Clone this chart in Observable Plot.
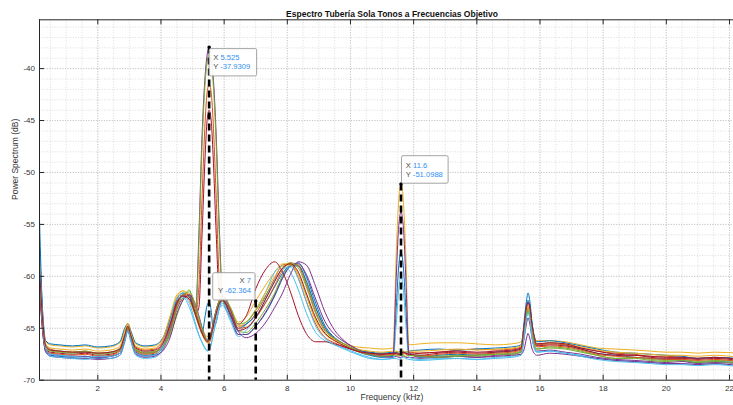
<!DOCTYPE html>
<html><head><meta charset="utf-8">
<script src="https://cdn.jsdelivr.net/npm/d3@7"></script>
<script src="https://cdn.jsdelivr.net/npm/@observablehq/plot@0.6"></script>
<style>body{margin:0;background:#fff} svg{display:block}</style>
</head><body><div id="chart"></div>
<script>
// ---------------- data ----------------
const titleText = "Espectro Tubería Sola Tonos a Frecuencias Objetivo";
const xLabel = "Frequency (kHz)";
const yLabel = "Power Spectrum (dB)";
const xTicks = [2,4,6,8,10,12,14,16,18,20,22];
const yTicks = [-70,-65,-60,-55,-50,-45,-40];
const xMinor = d3.range(0.5, 22.2, 0.5);
const yMinor = d3.range(-69, -35, 1);
const xDomain = [0.154, 22.127];
const yDomain = [-70, -35.3];

const freqs = [0.155,0.25,0.35,0.5,0.8,1.2,1.6,2.0,2.4,2.7,
 2.85,2.95,3.05,3.2,3.5,3.8,4.05,4.3,4.5,4.7,
 4.9,5.1,5.2,5.3,5.4,5.46,5.525,5.59,5.65,5.75,
 5.85,5.95,6.2,6.45,6.7,7.0,7.3,7.6,7.85,8.1,
 8.35,8.6,8.9,9.2,9.5,9.8,10.2,10.6,11.0,11.35,
 11.45,11.52,11.6,11.68,11.75,11.85,12.2,12.8,13.4,14.0,
 14.6,15.1,15.4,15.5,15.57,15.62,15.68,15.75,15.9,16.3,
 16.8,17.3,17.8,18.4,19.0,19.5,20.0,20.5,21.0,21.5,22.3];

const s1 = [-54.6,-63.5,-67.0,-67.6,-67.7,-67.8,-67.7,-67.9,-67.7,-67.4,
 -66.0,-65.0,-66.0,-67.3,-67.6,-67.5,-66.9,-65.0,-62.8,-61.7,
 -61.9,-63.6,-64.6,-65.5,-63.8,-62.8,-62.5,-63.3,-65.0,-64.4,
 -63.0,-62.3,-63.8,-65.6,-65.6,-64.8,-63.6,-61.9,-60.2,-59.0,
 -58.7,-60.0,-62.6,-64.8,-65.9,-66.5,-67.2,-67.6,-67.8,-67.7,
 -63.0,-59.3,-57.7,-59.3,-63.0,-67.3,-67.8,-67.6,-67.5,-67.6,
 -67.3,-67.2,-66.9,-64.3,-62.4,-61.6,-62.4,-64.5,-66.6,-66.4,
 -66.6,-67.0,-67.4,-67.6,-67.8,-67.9,-68.0,-68.1,-68.3,-68.2,-68.3];
const s2 = [-58.5,-64.0,-66.6,-67.0,-67.2,-67.3,-67.2,-67.4,-67.3,-66.9,
 -65.6,-64.8,-65.7,-66.8,-67.1,-67.0,-66.3,-64.2,-62.4,-61.8,
 -62.3,-63.5,-61.0,-52.5,-45.0,-42.3,-41.5,-42.3,-45.0,-52.5,
 -60.5,-62.3,-63.2,-64.8,-64.6,-63.6,-62.0,-60.2,-58.9,-58.8,
 -60.2,-62.4,-64.6,-65.9,-66.4,-66.8,-67.1,-67.3,-67.5,-67.4,
 -67.3,-67.4,-67.5,-67.4,-67.3,-67.3,-67.4,-67.3,-67.1,-67.0,
 -67.1,-67.0,-66.8,-65.3,-63.5,-62.9,-63.4,-65.0,-66.6,-66.5,
 -66.6,-66.9,-67.2,-67.4,-67.5,-67.7,-67.7,-67.8,-67.9,-67.8,-68.0];
const s3 = [-59.0,-63.8,-66.3,-66.6,-66.7,-66.8,-66.7,-66.9,-66.8,-66.4,
 -65.2,-64.5,-65.3,-66.5,-66.8,-66.7,-66.0,-63.8,-62.0,-61.4,
 -61.9,-63.4,-64.2,-65.0,-65.6,-65.8,-65.8,-65.3,-64.5,-63.2,
 -62.3,-61.9,-63.0,-64.4,-63.9,-62.36,-60.9,-59.6,-58.8,-58.8,
 -59.8,-61.8,-64.3,-65.6,-66.2,-66.5,-66.8,-66.9,-67.0,-66.9,
 -57.7,-53.0,-51.1,-53.0,-57.7,-66.6,-66.5,-66.4,-66.4,-66.5,
 -66.6,-66.5,-66.3,-65.0,-63.4,-62.8,-63.3,-64.8,-66.2,-66.2,
 -66.3,-66.6,-66.9,-67.0,-67.1,-67.2,-67.3,-67.3,-67.4,-67.3,-67.4];
const s4 = [-60.5,-65.0,-67.3,-67.7,-67.8,-67.9,-67.9,-68.0,-67.9,-67.6,
 -66.3,-65.2,-66.2,-67.5,-67.8,-67.7,-67.1,-65.3,-63.2,-62.1,
 -61.8,-63.0,-56.0,-46.5,-40.6,-38.7,-37.93,-38.7,-40.6,-46.5,
 -55.5,-62.0,-64.0,-65.6,-65.6,-64.8,-63.5,-61.8,-60.1,-59.0,
 -58.8,-59.8,-62.2,-64.4,-65.6,-66.3,-67.0,-67.5,-67.7,-67.8,
 -67.7,-67.8,-67.8,-67.7,-67.8,-67.8,-67.9,-67.8,-67.7,-67.8,
 -67.6,-67.5,-67.3,-65.9,-64.6,-64.0,-64.6,-66.0,-67.2,-67.1,
 -67.3,-67.5,-67.8,-68.0,-68.1,-68.2,-68.3,-68.2,-68.4,-68.3,-68.4];
const s5 = [-59.5,-64.2,-66.8,-67.1,-67.2,-67.3,-67.2,-67.4,-67.3,-67.0,
 -65.8,-64.9,-65.8,-67.0,-67.3,-67.2,-66.8,-65.6,-63.8,-62.2,
 -61.3,-63.5,-57.0,-47.5,-41.3,-39.4,-38.6,-39.4,-41.3,-47.5,
 -56.5,-62.3,-63.5,-65.3,-65.4,-64.5,-63.2,-61.6,-59.9,-58.9,
 -58.9,-60.6,-63.1,-65.0,-66.0,-66.6,-67.2,-67.5,-67.4,-67.5,
 -67.4,-67.5,-67.6,-67.5,-67.4,-67.5,-67.6,-67.7,-67.6,-67.7,
 -67.5,-67.4,-67.2,-65.6,-64.0,-63.4,-64.0,-65.7,-67.0,-66.9,
 -67.0,-67.3,-67.6,-67.9,-67.8,-68.0,-68.1,-68.0,-68.2,-68.1,-68.2];
const s6 = [-58.0,-64.5,-67.2,-67.7,-67.8,-67.9,-68.0,-67.8,-67.9,-67.6,
 -66.4,-65.3,-66.3,-67.6,-67.9,-67.8,-67.0,-64.8,-62.6,-61.9,
 -62.6,-64.6,-65.6,-66.3,-66.9,-67.1,-67.0,-66.5,-65.6,-64.2,
 -63.0,-62.6,-64.0,-65.3,-64.6,-63.2,-61.6,-59.6,-59.0,-59.6,
 -61.3,-63.5,-65.4,-66.2,-66.6,-66.9,-67.4,-67.8,-68.0,-67.9,
 -64.5,-61.5,-60.0,-61.5,-64.5,-67.8,-68.0,-67.9,-67.9,-68.0,
 -67.8,-67.7,-67.5,-65.8,-64.0,-63.3,-64.0,-65.9,-67.3,-67.2,
 -67.4,-67.6,-67.9,-68.1,-68.2,-68.3,-68.4,-68.4,-68.5,-68.4,-68.6];
const s7 = [-60.0,-64.8,-67.0,-67.3,-67.4,-67.5,-67.4,-67.6,-67.5,-67.1,
 -65.9,-65.0,-65.9,-67.1,-67.4,-67.3,-66.6,-64.6,-62.7,-61.9,
 -62.0,-63.6,-63.0,-56.0,-48.3,-45.0,-44.0,-45.0,-48.3,-56.0,
 -62.0,-62.2,-63.3,-64.6,-63.8,-61.2,-59.4,-58.6,-59.6,-61.5,
 -63.8,-65.5,-66.3,-66.3,-66.5,-66.8,-67.2,-67.4,-67.5,-67.4,
 -67.4,-67.5,-67.4,-67.3,-67.4,-67.5,-67.6,-67.4,-67.3,-67.4,
 -67.3,-67.2,-67.0,-65.1,-63.1,-62.5,-63.1,-64.9,-66.7,-66.6,
 -66.7,-67.0,-67.4,-67.6,-67.6,-67.8,-67.9,-67.9,-68.0,-67.9,-68.1];
const s8 = [-57.0,-63.2,-66.2,-66.5,-66.6,-66.7,-66.6,-66.8,-66.7,-66.3,
 -65.0,-64.6,-65.3,-66.4,-66.7,-66.6,-66.0,-64.0,-62.2,-61.6,
 -62.0,-63.7,-64.6,-65.4,-66.0,-66.2,-66.1,-65.6,-64.8,-63.5,
 -62.6,-62.2,-63.6,-65.0,-64.6,-63.8,-62.6,-61.0,-59.7,-59.0,
 -59.0,-60.4,-63.0,-65.0,-66.0,-66.6,-67.1,-67.3,-67.4,-67.3,
 -67.3,-67.3,-67.2,-67.3,-67.3,-67.2,-67.1,-67.0,-67.1,-67.0,
 -66.9,-66.8,-66.6,-64.6,-62.9,-62.3,-62.9,-64.6,-66.3,-66.2,
 -66.4,-66.7,-67.0,-67.3,-67.4,-67.5,-67.6,-67.7,-67.9,-67.8,-67.9];
const s9 = [-61.0,-65.2,-67.1,-67.4,-67.5,-67.6,-67.5,-67.7,-67.6,-67.2,
 -66.0,-65.1,-66.0,-67.2,-67.5,-67.4,-66.7,-64.9,-62.9,-61.8,
 -61.7,-63.3,-64.4,-65.3,-66.0,-66.3,-66.4,-65.9,-65.0,-63.6,
 -62.5,-62.0,-63.4,-65.0,-64.9,-64.0,-62.6,-60.9,-59.4,-58.7,
 -59.0,-60.8,-63.4,-65.2,-66.0,-66.6,-67.2,-67.5,-67.6,-67.5,
 -67.5,-67.6,-67.5,-67.4,-67.5,-67.6,-67.7,-67.5,-67.4,-67.5,
 -67.4,-67.3,-67.1,-65.2,-63.6,-63.0,-63.6,-65.2,-66.8,-66.7,
 -66.8,-67.1,-67.5,-67.7,-67.8,-67.9,-68.0,-68.0,-68.1,-68.0,-68.2];
const s10 = [-58.5,-63.9,-66.5,-66.9,-67.0,-67.1,-67.0,-67.2,-67.1,-66.7,
 -65.4,-64.6,-65.5,-66.7,-67.0,-66.9,-66.1,-63.7,-61.8,-61.4,
 -62.3,-63.9,-64.8,-65.6,-66.2,-66.4,-66.3,-65.7,-64.8,-63.4,
 -62.4,-61.8,-63.2,-64.8,-64.4,-63.2,-61.6,-60.0,-59.0,-58.9,
 -59.9,-61.9,-64.2,-65.5,-66.1,-66.6,-67.0,-67.2,-67.3,-67.2,
 -67.2,-67.3,-67.2,-67.2,-67.3,-67.2,-67.2,-67.1,-67.0,-67.1,
 -67.0,-66.9,-66.7,-65.0,-63.4,-62.9,-63.4,-65.0,-66.5,-66.4,
 -66.5,-66.8,-67.1,-67.3,-67.4,-67.5,-67.6,-67.6,-67.7,-67.6,-67.8];
const s11 = [-60.8,-65.2,-67.2,-67.5,-67.6,-67.7,-67.7,-67.8,-67.7,-67.4,
 -66.2,-65.2,-66.1,-67.4,-67.7,-67.6,-67.2,-65.8,-63.6,-62.3,
 -61.8,-62.8,-63.8,-64.9,-65.8,-66.1,-66.1,-65.4,-64.5,-63.2,
 -62.3,-61.9,-63.2,-65.3,-65.9,-65.5,-64.5,-63.0,-61.6,-59.8,
 -58.6,-58.9,-61.0,-63.5,-65.2,-66.2,-67.0,-67.5,-67.7,-67.6,
 -60.0,-55.5,-53.8,-55.5,-60.0,-67.5,-67.7,-67.8,-67.7,-67.8,
 -67.7,-67.6,-67.5,-67.0,-66.0,-65.5,-66.0,-67.0,-67.6,-67.4,
 -67.5,-67.7,-67.9,-68.1,-68.2,-68.3,-68.4,-68.4,-68.5,-68.4,-68.6];
const s12 = [-59.8,-64.6,-66.9,-67.2,-67.3,-67.4,-67.3,-67.5,-67.4,-67.1,
 -65.9,-65.0,-65.9,-67.1,-67.4,-67.3,-66.8,-65.4,-63.2,-61.8,
 -61.5,-62.9,-64.0,-65.0,-65.8,-66.1,-66.2,-65.6,-64.7,-63.3,
 -62.3,-61.8,-63.0,-64.6,-64.4,-63.3,-61.9,-60.4,-59.2,-58.7,
 -59.2,-61.0,-63.6,-65.3,-66.0,-66.5,-67.1,-67.5,-67.7,-67.6,
 -67.6,-67.7,-67.6,-67.6,-67.7,-67.6,-67.7,-67.8,-67.7,-67.6,
 -67.5,-67.5,-67.3,-65.4,-63.8,-63.2,-63.8,-65.5,-67.0,-66.8,
 -66.9,-67.2,-67.6,-67.9,-67.9,-68.1,-68.2,-68.1,-68.3,-68.2,-68.4];
const s13 = [-58.8,-64.4,-67.0,-67.5,-67.6,-67.7,-67.8,-67.7,-67.7,-67.4,
 -66.2,-65.2,-66.2,-67.4,-67.7,-67.6,-66.7,-64.2,-62.2,-62.0,
 -63.0,-64.8,-65.7,-66.4,-67.0,-67.2,-67.1,-66.6,-65.7,-64.3,
 -63.1,-62.8,-64.3,-65.8,-65.2,-64.0,-62.2,-60.4,-59.3,-59.1,
 -60.2,-62.4,-64.8,-66.0,-66.6,-67.0,-67.5,-67.9,-68.0,-67.9,
 -67.9,-68.0,-67.9,-67.8,-67.9,-68.0,-68.1,-68.0,-67.9,-68.0,
 -67.9,-67.8,-67.6,-65.7,-64.0,-63.5,-64.1,-65.8,-67.3,-67.2,
 -67.4,-67.7,-68.0,-68.2,-68.3,-68.4,-68.5,-68.5,-68.6,-68.5,-68.7];
const s14 = [-59.2,-64.1,-66.7,-67.1,-67.2,-67.3,-67.3,-67.4,-67.3,-67.0,
 -65.7,-64.8,-65.7,-66.9,-67.2,-67.1,-66.5,-64.5,-62.5,-61.9,
 -62.2,-63.8,-64.7,-65.5,-66.1,-66.3,-66.2,-65.7,-64.9,-63.6,
 -62.6,-62.3,-63.7,-65.2,-65.0,-64.0,-62.3,-60.5,-59.2,-58.8,
 -59.6,-61.6,-64.0,-65.5,-66.2,-66.7,-67.2,-67.4,-67.5,-67.4,
 -67.4,-67.5,-67.4,-67.3,-67.4,-67.5,-67.4,-67.3,-67.2,-67.3,
 -67.2,-67.1,-66.9,-64.7,-63.0,-62.5,-63.0,-64.7,-66.5,-66.4,
 -66.5,-66.9,-67.2,-67.5,-67.6,-67.7,-67.8,-67.8,-67.9,-67.8,-68.0];

const seriesValues = [s1,s2,s3,s4,s5,s6,s7,s8,s9,s10,s11,s12,s13,s14];
const palette = ["#0072BD","#D95319","#EDB120","#7E2F8E","#77AC30","#4DBEEE","#A2142F"];

const tipX = [5.525, 11.6, 7];
const tipY = [-37.9309, -51.0988, -62.364];
const tipXText = ["5.525", "11.6", "7"];
const tipYText = ["-37.9309", "-51.0988", "-62.364"];

// ---------------- build ----------------
const rows = [];
seriesValues.forEach((vals, i) => vals.forEach((v, j) => rows.push({s: i, f: freqs[j], v})));
const tips = tipX.map((x, i) => ({x, y: tipY[i], xs: tipXText[i], ys: tipYText[i]}));

const ML = 39, MR = 0, MT = 19.3, MB = 25.3, W = 733, H = 405;
const plotH = H - MT - MB, plotW = W - ML - MR;
const font = "'Liberation Sans', Arial, Helvetica, sans-serif";
const axisCol = "#262626";

const plot = Plot.plot({
  width: W, height: H,
  marginLeft: ML, marginRight: MR, marginTop: MT, marginBottom: MB,
  style: {fontFamily: font, fontSize: "8px", background: "#fff", color: axisCol},
  x: {domain: xDomain},
  y: {domain: yDomain},
  marks: [
    Plot.ruleX(xMinor, {stroke: "#d4d4d4", strokeWidth: 0.8, strokeDasharray: "1,1.6"}),
    Plot.ruleY(yMinor, {stroke: "#d4d4d4", strokeWidth: 0.8, strokeDasharray: "1,1.6"}),
    Plot.ruleX(xTicks, {stroke: "#bdbdbd", strokeWidth: 0.8, strokeDasharray: "1,1.6"}),
    Plot.ruleY(yTicks, {stroke: "#bdbdbd", strokeWidth: 0.8, strokeDasharray: "1,1.6"}),
    Plot.line(rows, {x: "f", y: "v", z: "s", stroke: d => palette[d.s % 7], strokeWidth: 1, curve: "monotone-x", clip: true}),
    Plot.ruleX(tips, {x: "x", y1: "y", y2: yDomain[0], stroke: "#000", strokeWidth: 2.6, strokeDasharray: "7,4"}),
    Plot.dot(tips, {x: "x", y: "y", r: 1.7, fill: "#000"}),
    // box (left, top, bottom)
    Plot.ruleX([xDomain[0]], {stroke: axisCol, strokeWidth: 1}),
    Plot.ruleY(yDomain, {stroke: axisCol, strokeWidth: 1}),
    // inside ticks
    Plot.tickX(xTicks, {x: d => d, insetTop: plotH - 5, stroke: axisCol}),
    Plot.tickX(xTicks, {x: d => d, insetBottom: plotH - 5, stroke: axisCol}),
    Plot.tickY(yTicks, {y: d => d, insetRight: plotW - 5, stroke: axisCol}),
    Plot.axisX(xTicks, {tickSize: 0, tickPadding: 5, tickFormat: d => String(d), fontSize: 8, fill: "#333"}),
    Plot.axisY(yTicks, {tickSize: 0, tickPadding: 4.5, tickFormat: d => String(d), fontSize: 8, fill: "#333"}),
    Plot.text([xLabel], {frameAnchor: "bottom", dy: 19.6, dx: 5.5, fontSize: 8.5, fill: "#333"}),
    Plot.text([yLabel], {frameAnchor: "left", dx: -24, rotate: -90, fontSize: 8.5, fill: "#333"}),
    Plot.text([titleText], {frameAnchor: "top", dy: -9.3, dx: 5.5, fontSize: 8.5, fontWeight: "bold", fill: "#111"})
  ]
});
document.getElementById("chart").appendChild(plot);

// ---------------- data tips (anchored to data through the scales) ----------------
const sx = plot.scale("x"), sy = plot.scale("y");
const svg = d3.select(plot);
const layouts = [
  {bx: 0.5, by: 2, bw: 47.5, bh: 27.3, tx: 4.6, t1: 13.4, t2: 22.2, anchor: "start"},
  {bx: 1, by: -27.7, bw: 46.6, bh: 27.5, tx: 5.3, t1: -15.4, t2: -6.4, anchor: "start"},
  {bx: -42.5, by: -27.7, bw: 42.3, bh: 27.3, tx: -4.3, t1: -17.0, t2: -7.2, anchor: "end"}
];
const g = svg.append("g").attr("font-family", font).attr("font-size", 7.6);
tips.forEach((t, i) => {
  const L = layouts[i];
  const px = sx.apply(t.x), py = sy.apply(t.y);
  g.append("rect").attr("x", px + L.bx).attr("y", py + L.by).attr("width", L.bw).attr("height", L.bh)
    .attr("rx", 1.5).attr("fill", "#fff").attr("fill-opacity", 0.92).attr("stroke", "#9a9a9a").attr("stroke-width", 0.9);
  [[ "X", t.xs, L.t1 ], [ "Y", t.ys, L.t2 ]].forEach(([lab, val, dy]) => {
    const tx = g.append("text").attr("x", px + L.tx).attr("y", py + dy).attr("text-anchor", L.anchor);
    tx.append("tspan").attr("fill", "#4a4a4a").text(lab + " ");
    tx.append("tspan").attr("fill", "#2f8ff0").text(val);
  });
});
</script>
</body></html>
